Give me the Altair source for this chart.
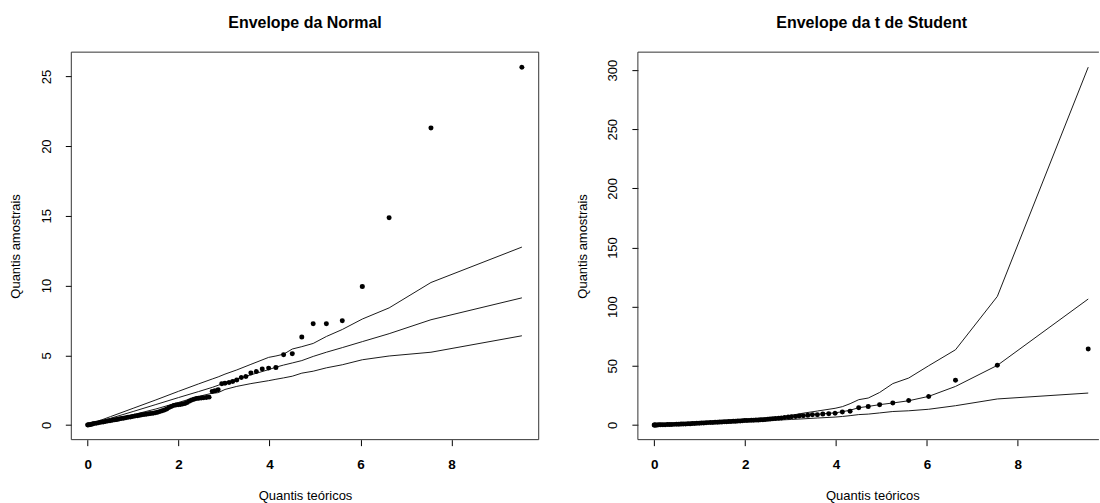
import altair as alt
import pandas as pd

# ---------------- data ----------------
# theoretical quantiles (shared by both panels), largest first
quantis_teoricos = [
    9.55, 7.55, 6.63, 6.04, 5.60, 5.25, 4.96, 4.71, 4.50, 4.31,
    4.14, 3.98, 3.84, 3.71, 3.59, 3.48, 3.38, 3.28, 3.19, 3.11,
    3.02, 2.95, 2.87, 2.80, 2.74, 2.67, 2.61, 2.55, 2.50, 2.44,
    2.39, 2.34, 2.29, 2.24, 2.19, 2.14, 2.09, 2.04, 1.99, 1.94,
    1.89, 1.84, 1.79, 1.74, 1.69, 1.64, 1.59, 1.54, 1.49, 1.44,
    1.39, 1.34, 1.29, 1.24, 1.19, 1.14, 1.09, 1.04, 0.99, 0.94,
    0.89, 0.84, 0.79, 0.74, 0.69, 0.64, 0.59, 0.54, 0.49, 0.44,
    0.39, 0.34, 0.29, 0.24, 0.19, 0.14, 0.10, 0.06, 0.03, 0.01, 0.00,
]

# sample quantiles, normal model
amostra_normal = [
    25.65, 21.3, 14.87, 9.94, 7.48, 7.26, 7.26, 6.31, 5.11, 5.04,
    4.13, 4.08, 4.01, 3.84, 3.73, 3.48, 3.41, 3.22, 3.12, 3.05,
    3.00, 2.96, 2.53, 2.45, 2.41, 2.00, 1.98, 1.96, 1.94, 1.92,
    1.90, 1.85, 1.80, 1.72, 1.62, 1.55, 1.50, 1.47, 1.45, 1.43,
    1.40, 1.33, 1.25, 1.15, 1.08, 1.02, 0.97, 0.92, 0.88, 0.84,
    0.82, 0.80, 0.78, 0.76, 0.73, 0.70, 0.67, 0.64, 0.61, 0.58,
    0.55, 0.52, 0.49, 0.46, 0.43, 0.40, 0.37, 0.34, 0.31, 0.28,
    0.25, 0.22, 0.19, 0.16, 0.13, 0.10, 0.07, 0.04, 0.02, 0.01, 0.00,
]

# sample quantiles, t de Student model
amostra_t = [
    64.2, 50.4, 37.8, 24.1, 20.6, 18.6, 17.2, 15.7, 14.5, 11.6,
    10.9, 9.9, 9.5, 9.3, 8.7, 8.7, 8.2, 7.9, 7.6, 7.2,
    6.9, 6.7, 6.3, 6.0, 5.6, 5.4, 5.2, 5.0, 4.8, 4.65,
    4.5, 4.4, 4.3, 4.2, 4.1, 4.0, 3.9, 3.8, 3.7, 3.55,
    3.4, 3.3, 3.2, 3.1, 3.0, 2.9, 2.8, 2.7, 2.6, 2.5,
    2.4, 2.3, 2.2, 2.1, 2.0, 1.85, 1.75, 1.6, 1.5, 1.4,
    1.3, 1.2, 1.1, 1.0, 0.92, 0.85, 0.77, 0.68, 0.6, 0.52,
    0.45, 0.38, 0.32, 0.26, 0.2, 0.15, 0.1, 0.06, 0.03, 0.01, 0.0,
]

# envelope vertices
x_envelope = [9.55, 7.55, 6.63, 6.04, 5.60, 5.25, 4.96, 4.71, 4.50, 4.31,
              4.14, 3.98, 3.59, 3.28, 3.02, 2.87, 2.74, 2.44, 2.0, 1.5,
              1.0, 0.5, 0.2, 0.0]

normal_inferior = [6.4, 5.22, 4.95, 4.68, 4.32, 4.1, 3.86, 3.72, 3.5, 3.38,
                   3.28, 3.18, 2.97, 2.77, 2.55, 2.32, 2.28, 2.05, 1.62, 1.15,
                   0.74, 0.35, 0.13, 0.0]
normal_mediana = [9.12, 7.55, 6.55, 5.98, 5.55, 5.22, 4.92, 4.62, 4.45, 4.3,
                  4.15, 3.97, 3.6, 3.3, 3.02, 2.85, 2.7, 2.4, 1.97, 1.47,
                  0.97, 0.48, 0.19, 0.0]
normal_superior = [12.76, 10.22, 8.4, 7.6, 6.85, 6.35, 5.85, 5.62, 5.45, 5.08,
                   4.95, 4.85, 4.35, 3.95, 3.65, 3.45, 3.3, 2.95, 2.42, 1.8,
                   1.2, 0.6, 0.24, 0.0]

t_inferior = [27.0, 22.0, 16.3, 13.3, 12.0, 11.4, 10.2, 9.2, 8.8, 7.9,
              7.2, 6.7, 5.9, 5.2, 4.7, 4.4, 4.2, 3.7, 3.0, 2.2,
              1.3, 0.55, 0.2, 0.0]
t_mediana = [106.5, 50.4, 32.6, 24.2, 20.5, 18.6, 17.2, 15.7, 14.6, 12.5,
             11.2, 10.3, 9.0, 8.0, 7.0, 6.4, 5.9, 4.8, 3.7, 2.6,
             1.5, 0.65, 0.25, 0.0]
t_superior = [302.5, 108.7, 63.6, 50.1, 39.7, 35.0, 27.5, 22.8, 21.4, 18.0,
              15.5, 14.1, 11.8, 10.0, 8.2, 7.2, 6.5, 5.2, 3.9, 2.7,
              1.6, 0.7, 0.25, 0.0]

ticks_x = [0, 2, 4, 6, 8]
ticks_y_normal = [0, 5, 10, 15, 20, 25]
ticks_y_t = [0, 50, 100, 150, 200, 250, 300]

# ---------------- layout ----------------
FONT = "Liberation Sans"
H = 388
W_LEFT = 468
W_RIGHT = 461.6
LINE = "#1a1a1a"
FRAME = "#333333"


def frame_rules(width, right_side=True):
    base = alt.Chart(pd.DataFrame({"f": [0]}))
    top = base.mark_rule(color=FRAME, strokeWidth=1).encode(
        x=alt.value(0), x2=alt.value(width), y=alt.value(0))
    bottom = base.mark_rule(color=FRAME, strokeWidth=1).encode(
        x=alt.value(0), x2=alt.value(width), y=alt.value(H))
    left = base.mark_rule(color=FRAME, strokeWidth=1).encode(
        x=alt.value(0), y=alt.value(0), y2=alt.value(H))
    rules = [top, bottom, left]
    if right_side:
        rules.append(base.mark_rule(color=FRAME, strokeWidth=1).encode(
            x=alt.value(width), y=alt.value(0), y2=alt.value(H)))
    return rules


def panel(title, amostra, inf, med, sup, ydom, yticks, width, xmax,
          title_dx, xtitle_x, right_side):
    n = len(x_envelope)
    env = pd.DataFrame({
        "x": x_envelope * 3,
        "y": inf + med + sup,
        "curva": ["inferior"] * n + ["mediana"] * n + ["superior"] * n,
    })
    pts = pd.DataFrame({"x": quantis_teoricos, "y": amostra})

    xscale = alt.Scale(domain=[-0.36, xmax], nice=False, zero=False)
    yscale = alt.Scale(domain=ydom, nice=False, zero=False)
    xaxis = alt.Axis(
        values=ticks_x, title="Quantis teóricos", grid=False, domain=False,
        tickSize=6, tickColor="black", labelFlush=False,
        labelFont=FONT, labelFontSize=13.5, labelFontWeight="bold",
        labelBaseline="alphabetic", labelPadding=23.3, labelColor="black",
        titleFont=FONT, titleFontSize=13, titleFontWeight="normal",
        titleColor="black", titleBaseline="alphabetic", titleAlign="center",
        titleX=xtitle_x, titleY=59.5,
    )
    yaxis = alt.Axis(
        values=yticks, title="Quantis amostrais", grid=False, domain=False,
        tickSize=6, tickColor="black", labelFlush=False, labelOverlap=False,
        labelAngle=270, labelAlign="center", labelBaseline="alphabetic",
        labelPadding=15.3, labelFont=FONT, labelFontSize=13,
        labelColor="black",
        titleFont=FONT, titleFontSize=13, titleFontWeight="normal",
        titleColor="black", titleAngle=270, titleAlign="center",
        titleBaseline="alphabetic", titleX=-51.4, titleY=H / 2,
    )
    lines = alt.Chart(env).mark_line(color=LINE, strokeWidth=1).encode(
        x=alt.X("x:Q", scale=xscale, axis=xaxis),
        y=alt.Y("y:Q", scale=yscale, axis=yaxis),
        detail="curva:N",
        order="x:Q",
    )
    points = alt.Chart(pts).mark_circle(color="black", size=25, opacity=1).encode(
        x=alt.X("x:Q", scale=xscale, axis=xaxis),
        y=alt.Y("y:Q", scale=yscale, axis=yaxis),
    )
    return alt.layer(lines, points, *frame_rules(width, right_side)).properties(
        width=width, height=H,
        title=alt.TitleParams(
            text=title, font=FONT, fontSize=16, fontWeight="bold",
            color="black", anchor="middle", baseline="alphabetic",
            offset=7.7, dx=title_dx,
        ),
    )


left = panel("Envelope da Normal", amostra_normal, normal_inferior,
             normal_mediana, normal_superior, [-1.05, 26.74], ticks_y_normal,
             W_LEFT, 9.92, 0, W_LEFT / 2, True)
right = panel("Envelope da t de Student", amostra_t, t_inferior, t_mediana,
              t_superior, [-12.4, 315.2], ticks_y_t, W_RIGHT,
              -0.36 + W_RIGHT / 45.5, 3.3, 234.8, False)

chart = alt.hconcat(left, right, spacing=99.3, bounds="flush").properties(
    padding={"left": 9.4, "top": 13.9, "right": 0, "bottom": 0},
    autosize=alt.AutoSizeParams(type="pad"),
    background="white",
).configure_view(stroke=None)

chart.save("out.html", embed_options={"renderer": "svg", "actions": False})
